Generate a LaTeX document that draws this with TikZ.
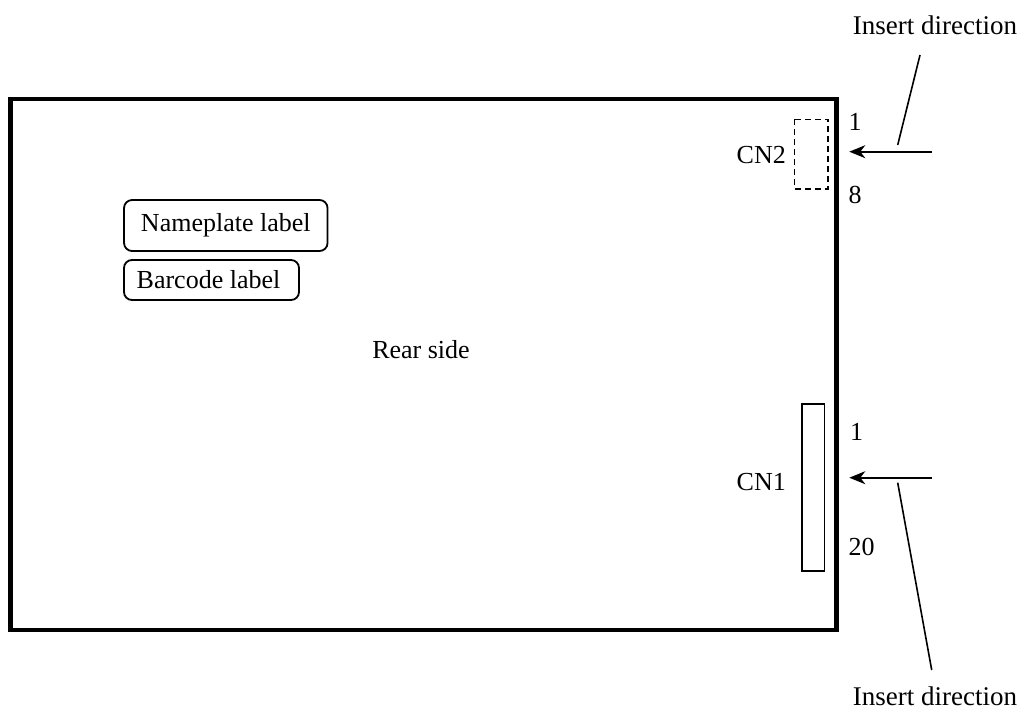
\documentclass[tikz,border=0pt]{standalone}
\usepackage{fontspec}
\setmainfont{Liberation Serif}
\usetikzlibrary{arrows.meta}
\begin{document}
\begin{tikzpicture}[x=1pt,y=-1pt,
  txt/.style={inner sep=0pt,font=\fontsize{26}{30}\selectfont},
  lbl/.style={draw,line width=1.8pt,rounded corners=8pt,inner ysep=0pt,font=\fontsize{26}{30}\selectfont},
  conn/.style={line width=1.6pt},
  insarrow/.style={line width=1.6pt,-{Stealth[length=16pt,width=13pt,inset=5pt]}}]
\useasboundingbox (0,0) rectangle (1025,710);
% board
\draw[line width=4.5pt] (10.5,99) rectangle (836.5,630);
\node[txt] (rear) at (421,350) {Rear side};
% labels
\node[lbl,inner xsep=0pt,minimum width=203.5pt,minimum height=51pt] (name) at (225.8,225.5) {Nameplate label};
\node[lbl,inner xsep=0pt,minimum width=175pt,minimum height=40pt] (bar) at (211.5,280) {Barcode label\hspace*{6pt}};
% CN2
\draw[line width=1.6pt,dash pattern=on 6pt off 4pt] (794.3,119.3) rectangle (828,188.7);
\node[txt,anchor=east] (cn2) at (786,155) {CN2};
\node[txt] (cn2a) at (855,122) {1};
\node[txt] (cn2b) at (855,195) {8};
\coordinate (a2s) at (931.7,151.7);
\coordinate (a2e) at (849.3,151.7);
\draw[insarrow] (a2s) -- (a2e);
\node[txt,font=\fontsize{27}{30}\selectfont] (ins1) at (935,25) {Insert direction};
\coordinate (l1s) at (920,55);
\coordinate (l1e) at (897.7,145);
\draw[conn] (l1s) -- (l1e);
% CN1
\draw[line width=1.6pt] (801.7,404) rectangle (824.3,570.7);
\node[txt,anchor=east] (cn1) at (786,482) {CN1};
\node[txt] (cn1a) at (856.7,431.7) {1};
\node[txt] (cn1b) at (861.7,546.7) {20};
\coordinate (a1s) at (931.7,477.7);
\coordinate (a1e) at (849.3,477.7);
\draw[insarrow] (a1s) -- (a1e);
\node[txt,font=\fontsize{27}{30}\selectfont] (ins2) at (935,696) {Insert direction};
\coordinate (l2s) at (897.7,482.7);
\coordinate (l2e) at (931.7,670);
\draw[conn] (l2s) -- (l2e);
\end{tikzpicture}
\end{document}
